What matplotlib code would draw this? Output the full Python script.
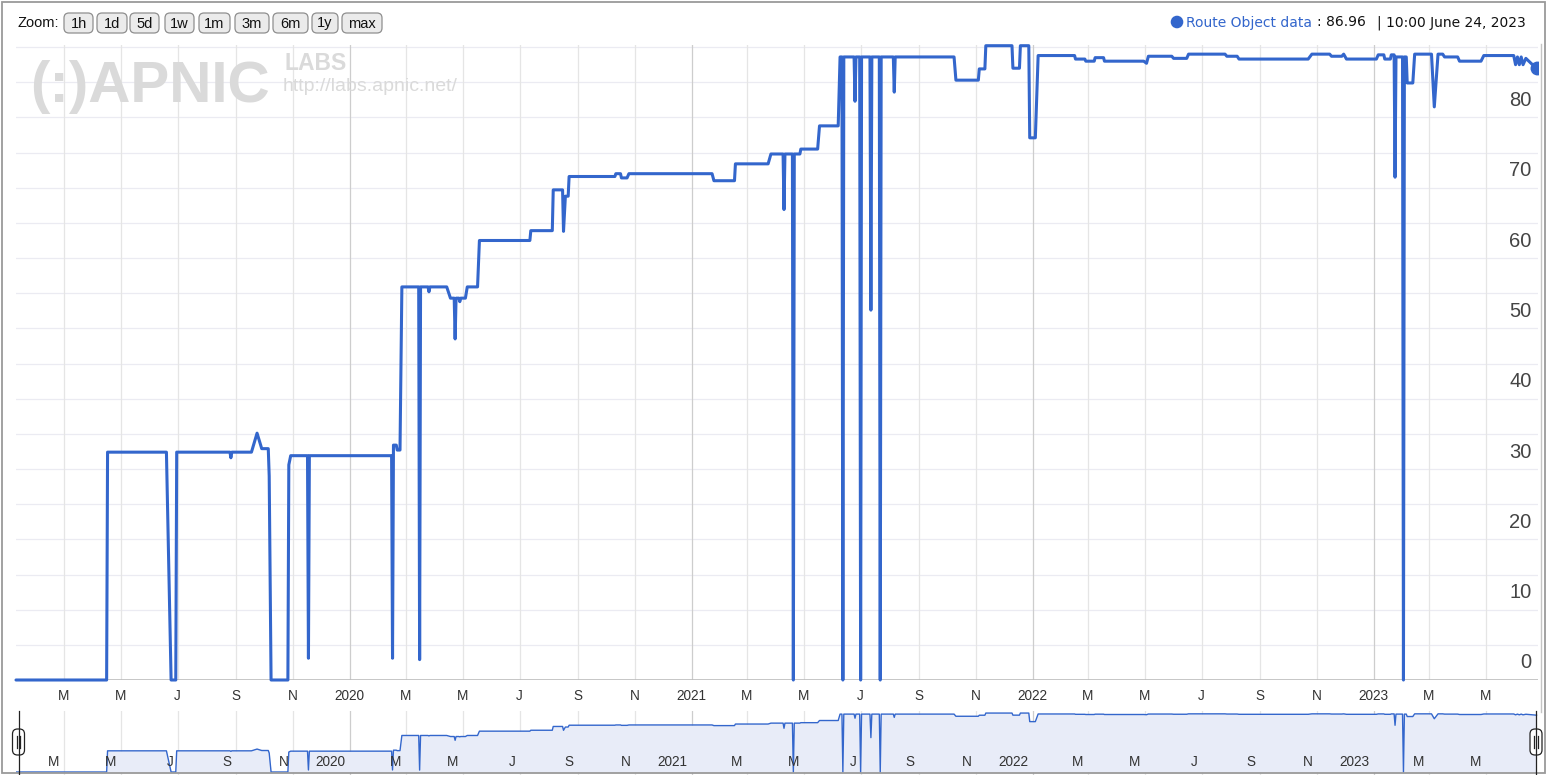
import datetime as dt
import matplotlib
matplotlib.use("Agg")
import matplotlib.pyplot as plt
import matplotlib.dates as mdates
import matplotlib.transforms as mtransforms
from matplotlib.patches import FancyBboxPatch, Rectangle, Circle
from matplotlib.lines import Line2D

# ---------------- data ----------------
dates = [
    "2019-01-09", "2019-04-16", "2019-04-17", "2019-06-19", "2019-06-24", "2019-06-29", "2019-06-30",
    "2019-08-26", "2019-08-27", "2019-08-28", "2019-09-18", "2019-09-24", "2019-09-29", "2019-10-06",
    "2019-10-07", "2019-10-09", "2019-10-27", "2019-10-28", "2019-10-30", "2019-11-17", "2019-11-18",
    "2019-11-19", "2020-02-15", "2020-02-16", "2020-02-17", "2020-02-20", "2020-02-21", "2020-02-24",
    "2020-02-26", "2020-03-15", "2020-03-16", "2020-03-17", "2020-03-25", "2020-03-26", "2020-03-27",
    "2020-04-14", "2020-04-18", "2020-04-22", "2020-04-23", "2020-04-24", "2020-04-27", "2020-04-28",
    "2020-04-29", "2020-05-04", "2020-05-06", "2020-05-17", "2020-05-19", "2020-07-12", "2020-07-13",
    "2020-08-05", "2020-08-06", "2020-08-16", "2020-08-17", "2020-08-19", "2020-08-22", "2020-08-23",
    "2020-10-11", "2020-10-12", "2020-10-17", "2020-10-18", "2020-10-24", "2020-10-26", "2021-01-23",
    "2021-01-25", "2021-02-16", "2021-02-17", "2021-03-24", "2021-03-27", "2021-04-09", "2021-04-10",
    "2021-04-11", "2021-04-19", "2021-04-20", "2021-04-21", "2021-04-27", "2021-04-28", "2021-05-16",
    "2021-05-18", "2021-06-07", "2021-06-09", "2021-06-11", "2021-06-12", "2021-06-13", "2021-06-24",
    "2021-06-25", "2021-06-26", "2021-06-30", "2021-07-01", "2021-07-02", "2021-07-11", "2021-07-12",
    "2021-07-13", "2021-07-21", "2021-07-22", "2021-07-23", "2021-08-05", "2021-08-06", "2021-08-07",
    "2021-10-09", "2021-10-11", "2021-11-04", "2021-11-05", "2021-11-11", "2021-11-12", "2021-12-10",
    "2021-12-11", "2021-12-18", "2021-12-19", "2021-12-28", "2021-12-29", "2022-01-04", "2022-01-07",
    "2022-02-15", "2022-02-16", "2022-02-26", "2022-02-27", "2022-03-08", "2022-03-09", "2022-03-18",
    "2022-03-19", "2022-04-30", "2022-05-03", "2022-05-05", "2022-05-30", "2022-06-01", "2022-06-15",
    "2022-06-17", "2022-07-26", "2022-07-28", "2022-08-08", "2022-08-10", "2022-10-23", "2022-10-27",
    "2022-11-15", "2022-11-17", "2022-11-28", "2022-11-30", "2022-12-03", "2023-01-04", "2023-01-06",
    "2023-01-12", "2023-01-13", "2023-01-19", "2023-01-20", "2023-01-23", "2023-01-24", "2023-01-25",
    "2023-02-01", "2023-02-02", "2023-02-03", "2023-02-05", "2023-02-06", "2023-02-12", "2023-02-14",
    "2023-03-04", "2023-03-07", "2023-03-11", "2023-03-16", "2023-03-18", "2023-04-01", "2023-04-03",
    "2023-04-26", "2023-04-29", "2023-05-31", "2023-06-02", "2023-06-04", "2023-06-06", "2023-06-08",
    "2023-06-10", "2023-06-13", "2023-06-24 10:00",
]
values = [
    0, 0, 32.4, 32.4, 0, 0, 32.4,
    32.4, 31.6, 32.4, 32.4, 35.1, 32.9, 32.9,
    29.0, 0, 0, 30.6, 31.9, 31.9, 3.1,
    31.9, 31.9, 3.1, 33.4, 33.4, 32.7, 32.7,
    55.9, 55.9, 2.9, 55.9, 55.9, 55.2, 55.9,
    55.9, 54.3, 54.3, 48.5, 54.3, 54.3, 53.8,
    54.3, 54.3, 55.9, 55.9, 62.5, 62.5, 63.9,
    63.9, 69.7, 69.7, 63.8, 68.8, 68.8, 71.6,
    71.6, 72.0, 72.0, 71.4, 71.4, 72.0, 72.0,
    71.0, 71.0, 73.4, 73.4, 74.8, 74.8, 66.9,
    74.8, 74.8, 0, 74.8, 74.8, 75.5, 75.5,
    78.8, 78.8, 88.6, 88.6, 0, 88.6, 88.6,
    82.3, 88.6, 88.6, 0, 88.6, 88.6, 52.6,
    88.6, 88.6, 0, 88.6, 88.6, 83.6, 88.6,
    88.6, 85.3, 85.3, 86.9, 86.9, 90.2, 90.2,
    87.0, 87.0, 90.2, 90.2, 77.1, 77.1, 88.8,
    88.8, 88.3, 88.3, 88.0, 88.0, 88.5, 88.5,
    88.0, 88.0, 87.7, 88.7, 88.7, 88.4, 88.4,
    89.0, 89.0, 88.7, 88.7, 88.3, 88.3, 89.0,
    89.0, 88.7, 88.7, 89.0, 88.3, 88.3, 88.9,
    88.9, 88.3, 88.3, 88.9, 88.9, 71.5, 88.6,
    88.6, 0, 88.6, 88.6, 84.9, 84.9, 89.0,
    89.0, 81.5, 89.0, 89.0, 88.6, 88.6, 88.0,
    88.0, 88.8, 88.8, 87.5, 88.6, 87.5, 88.6,
    87.5, 88.4, 86.96,
]

series_name = "Route Object data"
last_value_text = "86.96"
last_time_text = "10:00 June 24, 2023"

tick_dates = [
    "2019-03-01", "2019-05-01", "2019-07-01", "2019-09-01", "2019-11-01",
    "2020-01-01", "2020-03-01", "2020-05-01", "2020-07-01", "2020-09-01", "2020-11-01",
    "2021-01-01", "2021-03-01", "2021-05-01", "2021-07-01", "2021-09-01", "2021-11-01",
    "2022-01-01", "2022-03-01", "2022-05-01", "2022-07-01", "2022-09-01", "2022-11-01",
    "2023-01-01", "2023-03-01", "2023-05-01",
]
tick_labels = [
    "M", "M", "J", "S", "N",
    "2020", "M", "M", "J", "S", "N",
    "2021", "M", "M", "J", "S", "N",
    "2022", "M", "M", "J", "S", "N",
    "2023", "M", "M",
]
y_ticks = [0, 10, 20, 30, 40, 50, 60, 70, 80]
y_grid = list(range(0, 91, 5))
zoom_buttons = ["1h", "1d", "5d", "1w", "1m", "3m", "6m", "1y", "max"]

# ---------------- styling ----------------
W, H = 1547, 775
BLUE = "#3366cc"
GRID = "#ebebf2"
VGRID = "#e5e5e5"
YEARGRID = "#cdcdcd"
SANS = ["Liberation Sans", "DejaVu Sans"]

def parse(s):
    fmt = "%Y-%m-%d %H:%M" if " " in s else "%Y-%m-%d"
    return dt.datetime.strptime(s, fmt)

d = [parse(s) for s in dates]
td = [parse(s) for s in tick_dates]
x0, x1 = dt.datetime(2019, 1, 9), dt.datetime(2023, 6, 26)
YMAX = 90.3

fig = plt.figure(figsize=(W / 100, H / 100), dpi=100)
fig.patch.set_facecolor("white")
# pixel-space transform (y down)
PX = mtransforms.Affine2D().scale(1 / W, -1 / H).translate(0, 1) + fig.transFigure

def fx(x):
    return x / W

def fy(y):
    return 1 - y / H

# ---------------- main axes ----------------
ax = fig.add_axes([fx(16), fy(680), (1538 - 16) / W, (680 - 45) / H])
ax.set_xlim(x0, x1)
ax.set_ylim(0, YMAX)
for s in ax.spines.values():
    s.set_visible(False)
for yv in y_grid:
    ax.axhline(yv, color=GRID, lw=0.9, zorder=0.5)
for t, lab in zip(td, tick_labels):
    ax.axvline(t, color=YEARGRID if lab.isdigit() else VGRID, lw=0.9, zorder=0.6)
ax.axhline(0, color="#bdbdbd", lw=1.2, zorder=0.7)

ax.plot(d, values, color=BLUE, lw=2.2, solid_joinstyle="round", solid_capstyle="round",
        zorder=5, clip_on=False)
ax.plot([d[-1]], [values[-1]], "o", color=BLUE, ms=9, zorder=6, clip_on=True)

ax.set_yticks([])
ax.set_xticks(td)
ax.set_xticklabels(tick_labels, family=SANS, fontsize=9.8, color="#333333")
ax.tick_params(axis="x", length=0, pad=6.5)

ytr = mtransforms.blended_transform_factory(ax.transAxes, ax.transData)
ytr = mtransforms.offset_copy(ytr, fig=fig, x=0, y=17, units="dots")
for yv in y_ticks:
    ax.text((1531.5 - 16) / 1522, yv, str(yv), transform=ytr, ha="right", va="center",
            family=SANS, fontsize=14.5, color="#444444", zorder=7)

# watermark
fig.text(fx(30), fy(102), "(:)APNIC", family=SANS, fontsize=42, fontweight="bold",
         color="#dadada", ha="left", va="baseline", zorder=1)
fig.text(fx(284), fy(70), "LABS", family=SANS, fontsize=16.5, fontweight="bold",
         color="#dadada", ha="left", va="baseline", zorder=1)
fig.text(fx(283), fy(91), "http://labs.apnic.net/", family=SANS, fontsize=14,
         color="#dadada", ha="left", va="baseline", zorder=1)

# ---------------- navigator ----------------
NTOP, NBOT = 711, 775
ppu = (772 - 713) / YMAX
axn = fig.add_axes([fx(16), fy(NBOT), (1538 - 16) / W, (NBOT - NTOP) / H])
axn.set_xlim(x0, x1)
axn.set_ylim(-(NBOT - 772) / ppu, YMAX + (713 - NTOP) / ppu)
axn.axis("off")
for t, lab in zip(td, tick_labels):
    axn.axvline(t, color=YEARGRID if lab.isdigit() else VGRID, lw=0.9, zorder=0.6)
axn.fill_between(d, 0, values, color="#e8ecf8", lw=0, zorder=1)
axn.plot(d, values, color=BLUE, lw=1.0, zorder=3)
ntr = mtransforms.offset_copy(axn.transData, fig=fig, x=-4, y=0, units="dots")
for t, lab in zip(td, tick_labels):
    axn.text(t, (772 - 762.5) / ppu, lab, transform=ntr, ha="right", va="center",
             family=SANS, fontsize=9.8, color="#333333", zorder=4)

# handles
for hx in (18.5, 1536.0):
    fig.add_artist(Line2D([hx, hx], [NTOP, NBOT], transform=PX, color="#222222", lw=0.9))
    fig.add_artist(FancyBboxPatch((hx - 6, 729), 12, 26, boxstyle="round,pad=0,rounding_size=5",
                                  transform=PX, facecolor="white", edgecolor="#222222", lw=0.9))
    for dx in (-1.6, 1.6):
        fig.add_artist(Line2D([hx + dx, hx + dx], [736, 748], transform=PX, color="#222222", lw=0.9))

# ---------------- frame ----------------
fig.add_artist(Rectangle((1.5, 1.5), 1543.5, 771, transform=PX, fill=False,
                         edgecolor="#9a9a9a", lw=1.3))
fig.add_artist(Line2D([1540.5, 1540.5], [44, 712], transform=PX, color="#c4c4c4", lw=1.0))

# ---------------- zoom buttons ----------------
fig.text(fx(17), fy(23), "Zoom:", family=SANS, fontsize=10.5, color="#111111",
         ha="left", va="center")
btn_left = [64, 97, 130, 165, 199, 235, 273, 312, 342]
btn_width = [29, 30, 29, 29, 31, 34, 35, 26, 40]
for lab, bl, bw in zip(zoom_buttons, btn_left, btn_width):
    fig.add_artist(FancyBboxPatch((bl, 13), bw, 20, boxstyle="round,pad=0,rounding_size=5",
                                  transform=PX, facecolor="#ebebeb", edgecolor="#8f8f8f", lw=0.9))
    fig.text(fx(bl + bw / 2), fy(23.5), lab, family=SANS, fontsize=10.5, color="#111111",
             ha="center", va="center")

# ---------------- legend ----------------
fig.add_artist(Circle((1177, 22), 6.3, transform=PX, facecolor=BLUE, edgecolor="none"))
fig.text(fx(1186), fy(22.5), series_name, family="DejaVu Sans", fontsize=10, color=BLUE,
         ha="left", va="center")
fig.text(fx(1317), fy(22.5), ": " + last_value_text, family="DejaVu Sans", fontsize=10,
         color="#111111", ha="left", va="center")
fig.text(fx(1377), fy(22.5), "| " + last_time_text, family="DejaVu Sans", fontsize=10,
         color="#111111", ha="left", va="center")

fig.savefig("out.png", dpi=100, facecolor="white")
